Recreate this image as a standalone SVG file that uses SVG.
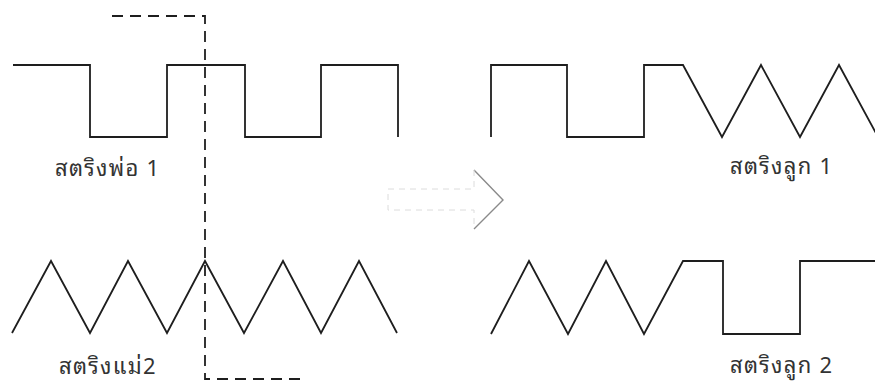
<svg xmlns="http://www.w3.org/2000/svg" width="875" height="383" viewBox="0 0 875 383">
<style>
.w{fill:none;stroke:#1e1e1e;stroke-width:1.8;stroke-linejoin:miter}
.d{fill:none;stroke:#1e1e1e;stroke-width:1.8;stroke-dasharray:11 7}
.lbl{font-family:"Noto Sans Thai Looped","Noto Sans Thai","Noto Sans","DejaVu Sans","Liberation Sans",sans-serif;font-size:22px;letter-spacing:1.3px;fill:#333}
.ah{fill:none;stroke:#8a8a8a;stroke-width:1.4}
.as{fill:none;stroke:#dcdcdc;stroke-width:1;stroke-dasharray:6 5}
</style>
<rect width="875" height="383" fill="#fff"/>
<g id="parent1">
<polyline class="w" points="13,65 90,65 90,137 167,137 167,65 245,65 245,137 321,137 321,65 398,65 398,137"/>
<text class="lbl" x="55" y="176">สตริงพ่อ 1</text>
</g>
<g id="parent2">
<polyline class="w" points="12,333 51,261 90,333 128,261 167,333 205,261 244,333 283,261 321,333 359,261 397,333"/>
<text class="lbl" x="59" y="374">สตริงแม่2</text>
</g>
<g id="child1">
<polyline class="w" points="491,137 491,65 567,65 567,137 644,137 644,65 683,65 722,137 761,65 800,137 839,65 878,137"/>
<text class="lbl" x="730" y="174">สตริงลูก 1</text>
</g>
<g id="child2">
<polyline class="w" points="491,334 529,261 568,334 606,261 644,334 683,261 723,261 723,334 800,334 800,261 878,261"/>
<text class="lbl" x="730" y="373">สตริงลูก 2</text>
</g>
<g id="connectors">
<polyline class="d" points="112,16 205,16 205,379 304,379"/>
<polyline class="ah" points="474,170 503,200 474,229"/>
<polyline class="as" points="474,170 474,189 388,189 388,210 474,210 474,229"/>
</g>
</svg>
